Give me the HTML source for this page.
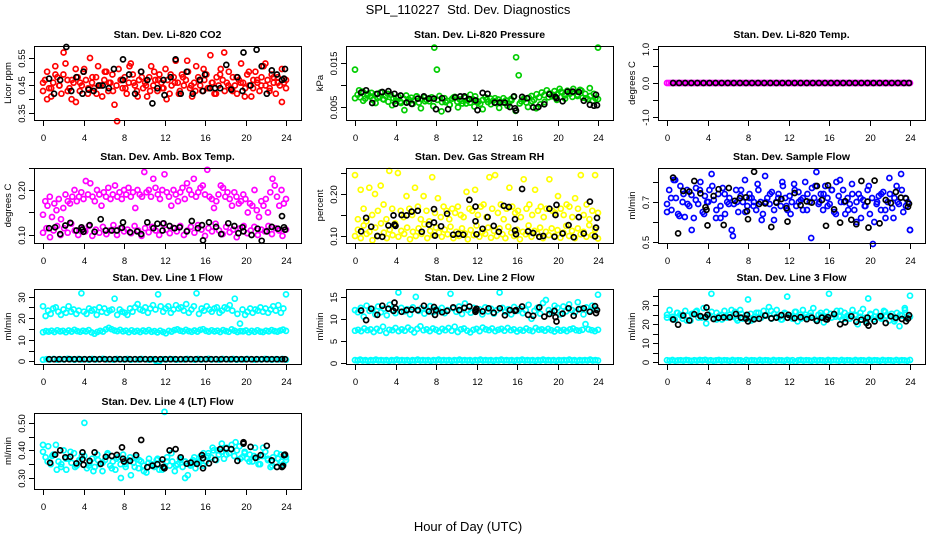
<!DOCTYPE html>
<html><head><meta charset="utf-8"><style>
html,body{margin:0;padding:0;background:#fff;}
svg{display:block;font-family:"Liberation Sans",sans-serif;}
</style></head><body>
<svg id="chart" width="936" height="540" viewBox="0 0 936 540" xmlns="http://www.w3.org/2000/svg">
<text x="468" y="14" text-anchor="middle" font-size="13" style="white-space:pre">SPL_110227&#160; Std. Dev. Diagnostics</text>
<text x="468" y="531" text-anchor="middle" font-size="13">Hour of Day (UTC)</text>
</svg>
<script>
// ---- data ----
const xTicks = [0,4,8,12,16,20,24];
const xTickLabels = ["0","4","8","12","16","20","24"];

const co2Red = [0.43,0.47,0.50,0.44,0.41,0.46,0.52,0.48,0.45,0.42,0.49,0.53,0.47,0.44,0.40,0.46,0.51,0.48,0.43,0.45,0.50,0.47,0.42,0.55,0.46,0.44,0.48,0.52,0.45,0.41,0.47,0.50,0.43,0.46,0.49,0.38,0.45,0.51,0.47,0.44,0.48,0.42,0.46,0.53,0.49,0.45,0.43,0.47,0.50,0.44,0.46,0.41,0.48,0.52,0.45,0.47,0.43,0.49,0.46,0.44,0.51,0.47,0.42,0.45,0.48,0.54,0.46,0.43,0.49,0.45,0.47,0.50,0.44,0.41,0.46,0.52,0.48,0.45,0.43,0.47,0.49,0.44,0.56,0.46,0.42,0.48,0.45,0.51,0.47,0.43,0.46,0.50,0.44,0.48,0.45,0.42,0.47,0.53,0.46,0.44,0.49,0.45,0.41,0.47,0.50,0.46,0.43,0.48,0.52,0.45,0.47,0.44,0.49,0.46,0.42,0.48,0.45,0.51,0.46,0.44];
const co2Red2 = [0.46,0.40,0.44,0.49,0.45,0.57,0.43,0.47,0.39,0.46,0.51,0.44,0.48,0.42,0.45,0.50,0.46,0.43,0.32,0.47,0.44,0.52,0.46,0.41,0.48,0.45,0.43,0.50,0.47,0.44,0.40,0.49,0.46,0.42,0.48,0.54,0.45,0.43,0.47,0.51,0.44,0.46,0.42,0.49,0.57,0.45,0.43,0.48,0.46,0.41,0.50,0.44,0.47,0.45,0.53,0.43,0.48,0.46,0.39,0.47];
const co2BlackT = [0.6,1.1,1.7,2.3,2.8,3.3,3.9,4.0,4.5,5.0,5.5,5.9,6.5,7.0,7.9,7.9,8.5,9.1,9.7,10.3,10.8,11.3,11.9,12.0,12.6,13.1,13.6,14.2,14.8,15.5,15.8,16.0,16.5,17.0,17.5,18.1,18.6,19.2,19.7,19.8,20.5,21.1,21.6,22.1,22.6,23.1,23.6,23.8,23.9];
const co2Black = [0.475,0.42,0.47,0.59,0.43,0.48,0.42,0.50,0.435,0.43,0.45,0.45,0.44,0.51,0.47,0.545,0.49,0.42,0.50,0.47,0.385,0.44,0.47,0.415,0.48,0.545,0.42,0.50,0.42,0.47,0.43,0.49,0.44,0.44,0.44,0.525,0.435,0.48,0.43,0.57,0.45,0.58,0.52,0.42,0.505,0.49,0.47,0.475,0.51];

const presGreen = [0.0135,0.0078,0.0072,0.0085,0.0069,0.0080,0.0074,0.0066,0.0079,0.0071,0.0083,0.0068,0.0075,0.0062,0.0078,0.0070,0.0064,0.0073,0.0059,0.0069,0.0076,0.0062,0.0071,0.0065,0.0074,0.0060,0.0068,0.0072,0.0066,0.0063,0.0072,0.0185,0.0135,0.0075,0.0061,0.0070,0.0064,0.0055,0.0069,0.0073,0.0062,0.0067,0.0058,0.0071,0.0065,0.0060,0.0068,0.0074,0.0063,0.0057,0.0066,0.0072,0.0061,0.0069,0.0064,0.0059,0.0067,0.0062,0.0070,0.0065,0.0058,0.0068,0.0073,0.0163,0.0122,0.0063,0.0067,0.0060,0.0071,0.0075,0.0066,0.0079,0.0072,0.0083,0.0077,0.0088,0.0081,0.0074,0.0086,0.0079,0.0091,0.0083,0.0076,0.0087,0.0080,0.0073,0.0084,0.0078,0.0089,0.0071,0.0080,0.0068,0.0075,0.0064,0.0070,0.0185];
const presGreen2 = [0.0070,0.0088,0.0064,0.0076,0.0082,0.0059,0.0073,0.0067,0.0080,0.0054,0.0071,0.0062,0.0043,0.0068,0.0057,0.0074,0.0047,0.0063,0.0070,0.0052,0.0066,0.0040,0.0061,0.0055,0.0072,0.0049,0.0064,0.0058,0.0078,0.0051,0.0062,0.0045,0.0067,0.0056,0.0070,0.0048,0.0060,0.0053,0.0065,0.0041,0.0058,0.0069,0.0050,0.0063,0.0047,0.0056,0.0061,0.0072,0.0078,0.0066,0.0085,0.0069,0.0082,0.0091,0.0075,0.0087,0.0070,0.0093,0.0080,0.0068];
const presBlackT = [0.6,1.1,1.7,2.2,2.7,3.3,3.9,4.0,4.5,5.1,5.6,6.2,6.8,7.3,7.8,8.0,8.6,9.2,9.9,10.4,10.8,11.3,11.9,12.1,12.6,13.1,13.8,14.3,14.8,15.3,15.7,15.8,15.9,16.5,17.0,17.6,18.1,18.7,19.2,19.8,19.9,20.5,21.0,21.5,22.1,22.6,23.2,23.6,23.8,23.9];
const presBlack = [0.0083,0.0088,0.0059,0.0080,0.0084,0.0086,0.0080,0.0057,0.0076,0.0060,0.0057,0.0069,0.0074,0.0069,0.0069,0.0045,0.0070,0.0045,0.0072,0.0074,0.0074,0.0068,0.0065,0.0043,0.0082,0.0080,0.0060,0.0060,0.0060,0.0050,0.0074,0.0047,0.0042,0.0073,0.0070,0.0049,0.0050,0.0056,0.0079,0.0073,0.0070,0.0063,0.0085,0.0085,0.0084,0.0064,0.0055,0.0053,0.0078,0.0054];

const tempMagenta = [0,0,0,0,0,0,0,0,0,0,0,0,0,0,0,0,0,0,0,0,0,0,0,0,0,0,0,0,0,0,0,0,0,0,0,0,0,0,0,0,0,0,0,0,0,0,0,0,0,0,0,0,0,0,0,0,0,0,0,0,0,0,0,0,0,0,0,0,0,0,0,0,0,0,0,0,0,0,0,0,0,0,0,0,0,0,0,0,0,0,0,0,0,0,0,0,0,0,0,0,0,0,0,0,0,0,0,0,0,0,0,0,0,0,0,0,0,0,0,0];
const tempBlackT = [0.6,1.2,1.8,2.4,3.0,3.6,4.2,4.8,5.4,6.0,6.6,7.2,7.8,8.4,9.0,9.6,10.2,10.8,11.4,12.0,12.6,13.2,13.8,14.4,15.0,15.6,16.2,16.8,17.4,18.0,18.6,19.2,19.8,20.4,21.0,21.6,22.2,22.8,23.4,23.9];
const tempBlack = [0,0,0,0,0,0,0,0,0,0,0,0,0,0,0,0,0,0,0,0,0,0,0,0,0,0,0,0,0,0,0,0,0,0,0,0,0,0,0,0];

const ambUpper = [0.145,0.175,0.165,0.185,0.140,0.170,0.155,0.180,0.135,0.160,0.190,0.175,0.170,0.185,0.200,0.175,0.185,0.195,0.180,0.220,0.190,0.215,0.185,0.175,0.200,0.190,0.165,0.195,0.185,0.205,0.180,0.190,0.210,0.185,0.195,0.180,0.200,0.190,0.205,0.185,0.195,0.160,0.200,0.190,0.185,0.240,0.195,0.200,0.185,0.225,0.205,0.190,0.180,0.200,0.235,0.195,0.185,0.165,0.200,0.190,0.175,0.195,0.205,0.180,0.215,0.200,0.190,0.225,0.185,0.195,0.205,0.210,0.190,0.245,0.185,0.180,0.160,0.175,0.190,0.210,0.205,0.185,0.195,0.180,0.165,0.195,0.185,0.170,0.175,0.190,0.180,0.150,0.170,0.165,0.200,0.155,0.140,0.175,0.165,0.180,0.150,0.195,0.225,0.210,0.185,0.165,0.200,0.170,0.180];
const ambLower = [0.105,0.115,0.095,0.110,0.120,0.100,0.115,0.105,0.125,0.110,0.100,0.115,0.108,0.120,0.098,0.112,0.105,0.118,0.102,0.110,0.122,0.100,0.115,0.108,0.112,0.104,0.120,0.110,0.098,0.115,0.106,0.118,0.110,0.100,0.125,0.112,0.104,0.116,0.108,0.120,0.100,0.110,0.118,0.105,0.122,0.112,0.098,0.115,0.108,0.125,0.110,0.102,0.118,0.106,0.112,0.095,0.115,0.120,0.104,0.110,0.118,0.100,0.112,0.108,0.120,0.102,0.115,0.110,0.098,0.112];
const ambBlackT = [0.6,1.2,1.7,2.2,2.7,3.3,3.8,3.9,4.0,4.6,5.1,5.7,6.2,6.8,7.3,7.8,7.9,8.6,9.3,9.7,10.3,10.9,11.3,11.8,11.9,12.5,13.0,13.5,14.2,14.7,15.3,15.7,15.8,16.4,17.1,17.6,18.3,18.9,19.3,19.7,19.8,20.6,21.2,21.6,22.1,22.6,23.2,23.6,23.8,23.9];
const ambBlack = [0.115,0.117,0.102,0.121,0.127,0.110,0.117,0.112,0.107,0.122,0.107,0.135,0.110,0.110,0.110,0.116,0.128,0.106,0.108,0.102,0.128,0.115,0.125,0.110,0.126,0.120,0.115,0.117,0.108,0.131,0.115,0.122,0.088,0.128,0.118,0.102,0.126,0.120,0.104,0.117,0.108,0.100,0.114,0.087,0.108,0.118,0.114,0.142,0.117,0.112];

const rhLower = [0.100,0.115,0.095,0.125,0.105,0.110,0.090,0.120,0.100,0.130,0.108,0.095,0.115,0.102,0.125,0.098,0.112,0.105,0.120,0.092,0.110,0.100,0.118,0.105,0.128,0.095,0.112,0.102,0.120,0.108,0.098,0.115,0.104,0.122,0.095,0.110,0.100,0.118,0.106,0.092,0.114,0.102,0.125,0.098,0.110,0.105,0.120,0.096,0.112,0.100,0.118,0.104,0.095,0.122,0.108,0.100,0.115,0.092,0.110,0.104,0.125,0.098,0.112,0.106,0.120,0.095,0.110,0.102,0.118,0.100,0.114,0.096,0.108,0.124,0.100,0.112,0.095,0.118,0.104,0.110,0.098,0.126,0.102,0.115,0.094];
const rhUpper = [0.245,0.140,0.210,0.165,0.135,0.215,0.150,0.200,0.160,0.220,0.175,0.140,0.255,0.165,0.130,0.250,0.160,0.145,0.195,0.165,0.150,0.215,0.170,0.140,0.195,0.160,0.135,0.240,0.155,0.190,0.145,0.170,0.160,0.140,0.165,0.155,0.170,0.150,0.145,0.205,0.165,0.160,0.210,0.150,0.170,0.175,0.145,0.240,0.165,0.245,0.155,0.175,0.140,0.165,0.215,0.170,0.155,0.160,0.145,0.235,0.165,0.175,0.150,0.210,0.160,0.170,0.145,0.165,0.235,0.160,0.155,0.195,0.165,0.150,0.175,0.170,0.145,0.190,0.165,0.245,0.150,0.175,0.140,0.160,0.245,0.155];
const rhBlackT = [0.6,1.1,1.6,2.2,2.7,3.3,3.8,3.9,4.0,4.6,5.1,5.6,6.2,6.6,7.3,7.8,7.8,7.9,8.5,9.1,9.7,10.2,10.7,11.3,11.9,11.9,12.0,12.6,13.1,13.7,14.2,14.7,15.2,15.8,15.8,15.9,16.5,17.1,17.6,18.2,18.6,19.2,19.7,19.8,19.9,20.5,21.1,21.6,22.1,22.6,23.2,23.7,23.8,23.9];
const rhBlack = [0.111,0.143,0.122,0.100,0.098,0.125,0.149,0.127,0.124,0.150,0.149,0.158,0.160,0.110,0.127,0.164,0.132,0.101,0.123,0.153,0.103,0.105,0.103,0.186,0.170,0.135,0.104,0.117,0.145,0.124,0.110,0.172,0.169,0.140,0.113,0.104,0.212,0.111,0.107,0.098,0.100,0.165,0.098,0.150,0.174,0.106,0.126,0.097,0.145,0.106,0.182,0.099,0.120,0.143];

const flowBlue = [0.690,0.760,0.660,0.810,0.720,0.640,0.780,0.700,0.625,0.760,0.680,0.735,0.620,0.770,0.690,0.800,0.650,0.730,0.700,0.760,0.840,0.710,0.620,0.740,0.680,0.770,0.640,0.700,0.720,0.560,0.690,0.760,0.650,0.730,0.700,0.810,0.680,0.740,0.720,0.700,0.660,0.760,0.700,0.640,0.830,0.720,0.690,0.750,0.610,0.700,0.740,0.680,0.780,0.720,0.660,0.730,0.700,0.790,0.680,0.750,0.710,0.660,0.800,0.740,0.700,0.770,0.720,0.850,0.690,0.740,0.660,0.780,0.720,0.690,0.760,0.650,0.800,0.730,0.700,0.760,0.640,0.720,0.690,0.790,0.660,0.700,0.740,0.620,0.710,0.680,0.760,0.640,0.720,0.600,0.690,0.730,0.660,0.750,0.620,0.700,0.740,0.670,0.720,0.780,0.690,0.840,0.650,0.720,0.700,0.560];
const flowBlue2 = [0.650,0.720,0.810,0.630,0.740,0.690,0.560,0.710,0.760,0.640,0.700,0.780,0.660,0.620,0.740,0.690,0.530,0.700,0.760,0.650,0.720,0.680,0.790,0.610,0.700,0.740,0.660,0.720,0.800,0.680,0.640,0.760,0.700,0.720,0.660,0.520,0.780,0.700,0.740,0.680,0.760,0.640,0.810,0.700,0.660,0.740,0.600,0.720,0.680,0.780,0.490,0.700,0.740,0.660,0.820,0.620,0.700,0.760,0.680,0.560];
const flowBlackT = [0.6,1.1,1.6,2.2,2.7,3.3,3.8,3.9,4.0,4.6,5.1,5.6,6.1,6.7,7.2,7.8,7.9,8.0,8.6,9.1,9.7,10.3,10.8,11.3,11.8,11.9,12.6,13.2,13.8,14.3,14.8,15.3,15.7,15.9,16.5,17.1,17.6,18.2,18.7,19.2,19.8,19.9,20.5,21.0,21.6,22.1,22.6,23.1,23.6,23.8,23.9];
const flowBlack = [0.822,0.543,0.755,0.752,0.805,0.743,0.674,0.661,0.583,0.730,0.764,0.585,0.770,0.706,0.719,0.723,0.654,0.614,0.851,0.690,0.693,0.575,0.697,0.715,0.669,0.602,0.745,0.684,0.703,0.697,0.780,0.710,0.581,0.783,0.663,0.597,0.704,0.611,0.589,0.805,0.702,0.572,0.807,0.593,0.710,0.695,0.750,0.722,0.718,0.676,0.691];

const l1High = [25.5,21.0,23.5,22.0,24.5,25.0,23.0,21.5,24.0,22.5,25.5,23.0,24.0,22.0,23.5,31.5,23.0,22.0,24.5,23.5,24.0,21.5,25.0,23.0,24.5,22.5,23.5,24.0,29.0,21.5,24.0,23.0,22.5,21.5,24.5,23.0,25.0,26.5,24.0,23.5,25.0,22.5,24.5,26.0,24.0,31.0,25.5,23.0,24.5,25.5,22.5,24.0,26.0,24.5,25.0,23.5,26.5,22.5,24.0,25.5,31.5,22.0,24.5,23.5,25.5,24.0,23.0,24.5,25.0,22.5,23.5,25.0,24.5,26.0,23.5,29.0,22.0,17.5,24.0,21.5,23.0,24.5,22.5,24.0,23.5,25.0,23.0,24.5,22.5,24.0,25.5,23.5,26.0,22.5,24.5,31.0];
const l1Mid = [13.5,14.0,13.8,14.2,13.6,14.4,13.9,14.1,13.5,14.3,13.8,14.6,14.0,13.7,14.2,13.9,14.5,13.4,12.8,13.6,14.1,13.8,14.8,15.5,14.9,14.3,14.0,14.6,13.9,14.2,13.5,14.4,13.8,14.1,13.6,14.3,13.9,14.5,13.7,14.0,13.4,14.2,13.6,13.0,14.1,13.8,14.5,14.8,14.2,13.9,14.6,14.0,13.7,14.3,13.8,14.6,14.9,14.1,13.8,14.4,13.9,14.2,13.6,14.5,14.0,13.7,14.8,14.2,13.6,14.0,13.9,14.3,13.5,14.1,13.7,14.4,13.8,13.6,14.2,13.9,14.5,14.0,13.8,14.3,14.7,14.1];
const l1Low = [0.8,1.0,0.9,1.1,0.8,1.0,0.9,1.2,1.0,0.8,1.1,0.9,1.0,0.8,1.1,0.9,1.0,1.2,0.9,1.0,0.8,1.1,1.0,0.9,1.1,0.8,1.0,0.9,1.1,1.0,0.8,1.0,0.3,0.0,1.0,0.9,1.1,1.0,0.8,1.0,0.9,1.1,1.0,0.8,1.1,0.9,1.0,1.2,0.9,1.0,0.8,1.1,1.0,0.9,1.1,0.8,1.0,0.9,1.1,1.0,0.8,1.0,0.9,1.1,1.0,0.8,1.0,0.9,1.1,0.8];
const l1BlackT = [0.6,1.1,1.6,2.1,2.6,3.1,3.6,4.1,4.6,5.1,5.6,6.1,6.6,7.1,7.6,8.1,8.6,9.1,9.6,10.1,10.6,11.1,11.6,12.1,12.6,13.1,13.6,14.1,14.6,15.1,15.6,16.1,16.6,17.1,17.6,18.1,18.6,19.1,19.6,20.1,20.6,21.1,21.6,22.1,22.6,23.1,23.6,23.9];
const l1Black = [1,1,1,1,1,1,1,1,1,1,1,1,1,1,1,1,1,1,1,1,1,1,1,1,1,1,1,1,1,1,1,1,1,1,1,1,1,1,1,1,1,1,1,1,1,1,1,1];

const l2High = [12.0,11.5,12.5,10.5,13.0,11.8,12.2,11.0,12.8,11.5,12.3,10.8,13.2,12.0,11.3,16.0,12.5,11.7,12.2,11.0,12.6,15.0,11.8,12.4,11.2,12.0,12.9,11.5,12.2,11.8,12.5,11.3,12.0,15.7,12.4,11.6,12.8,11.1,13.5,12.0,11.4,12.5,11.9,12.2,11.0,12.6,11.7,12.3,11.2,12.0,16.0,12.5,11.6,12.2,11.0,12.7,11.8,12.3,11.3,12.0,13.2,10.0,11.8,12.5,11.2,13.6,14.3,12.0,11.5,13.0,12.5,11.0,12.8,11.7,13.3,12.0,11.5,13.8,12.3,11.0,12.6,11.8,13.0,12.2,15.5];
const l2Mid = [7.3,7.5,7.2,7.8,7.4,7.6,7.0,7.7,7.3,8.2,6.8,7.5,7.4,7.9,7.2,7.6,7.3,8.0,7.5,6.9,7.7,8.3,7.4,7.6,7.2,7.8,7.5,7.1,7.7,7.4,7.9,7.3,8.2,7.0,7.6,7.8,7.3,6.9,7.5,7.7,7.2,8.0,7.6,7.4,7.8,7.2,7.5,7.7,7.3,7.9,7.4,7.6,7.1,7.5,7.3,7.8,7.4,7.2,7.9,7.5,7.6,7.3,7.7,7.4,7.1,7.6,7.3,7.5,7.2,7.6,7.8,7.4,7.3,7.5,8.8,7.6,7.4,7.2,7.5];
const l2Low = [0.6,0.5,0.7,0.5,0.6,0.4,0.6,0.5,0.7,0.5,0.6,0.5,0.6,0.4,0.6,0.5,0.7,0.5,0.6,0.5,0.6,0.4,0.6,0.5,0.7,0.5,0.6,0.5,0.6,0.4,0.6,0.5,0.7,0.5,0.6,0.5,0.6,0.4,0.6,0.5,0.7,0.5,0.6,0.5,0.6,0.4,0.6,0.5,0.7,0.5,0.6,0.5,0.6,0.4,0.6,0.5,0.7,0.5,0.6,0.5,0.6,0.4,0.6,0.5,0.7,0.5,0.6,0.5,0.6,0.4,0.6,0.5,0.7,0.5,0.6,0.5,0.6,0.4,0.6,0.5,0.6,0.5,0.7,0.5,0.6,0.4,0.6,0.5,0.6,0.5,0.7,0.5,0.6,0.5];
const l2BlackT = [0.6,1.1,1.6,2.2,2.7,3.3,3.8,3.9,4.0,4.6,5.1,5.6,6.2,6.8,7.3,7.8,7.9,8.0,8.6,9.1,9.7,10.3,10.8,11.3,11.9,11.9,12.0,12.6,13.2,13.7,14.3,14.8,15.3,15.8,15.9,16.5,17.1,17.6,18.2,18.7,19.2,19.7,19.8,19.9,20.5,21.1,21.6,22.1,22.6,23.2,23.7,23.8,23.9];
const l2Black = [11.9,9.7,12.3,10.9,13.0,12.3,11.8,13.7,12.4,11.6,12.0,12.1,12.0,13.0,11.7,12.7,10.9,12.0,11.5,11.8,12.6,12.0,12.5,12.8,12.0,11.6,12.3,11.7,12.4,11.4,12.4,10.8,12.0,11.8,12.0,12.8,10.9,10.7,12.6,10.5,11.1,11.8,10.4,9.4,11.2,12.4,10.7,12.2,12.4,11.6,12.9,11.3,12.0];

const l3High = [23.5,27.5,24.0,22.5,26.0,25.0,23.0,27.0,24.5,22.0,25.5,26.5,23.5,24.0,28.5,20.5,25.0,36.0,23.0,26.0,24.5,22.5,27.0,23.5,25.0,24.0,26.5,22.0,27.5,23.0,24.5,33.0,25.5,22.5,24.0,26.0,23.5,27.0,24.5,29.0,23.0,25.5,27.5,24.0,22.5,26.0,34.5,24.5,23.0,26.5,21.5,25.0,27.5,23.5,24.0,26.0,28.5,22.5,25.0,24.5,21.0,26.5,36.0,23.5,25.0,27.0,24.0,22.5,26.0,24.5,23.0,27.5,25.0,20.0,24.0,28.0,23.5,33.5,25.0,22.5,26.5,24.0,23.0,27.0,24.5,22.0,25.5,21.5,26.0,19.0,24.5,28.5,23.0,35.0];
const l3High2 = [25.0,23.0,26.0,24.5,22.0,25.5,27.0,23.5,24.0,26.5,22.5,25.0,24.0,27.5,23.0,25.5,24.5,22.0,26.0,23.5,25.0,27.0,24.0,22.5,25.5,24.0,26.5,23.0,25.0,24.5,22.5,26.0,23.5,25.5,24.0,27.0,23.0,25.0,24.5,26.0,22.0,25.5,24.0,23.5,26.5,24.5,22.5,25.0,27.5,24.0];
const l3Low = [1.2,1.0,1.3,0.9,1.1,1.2,1.0,1.3,1.1,0.9,1.2,1.0,1.3,1.1,1.4,1.0,1.2,0.9,1.1,1.3,1.0,1.2,1.1,0.9,1.3,1.0,1.2,1.1,0.6,1.3,1.0,1.2,1.1,0.9,1.3,1.0,1.2,1.1,0.9,1.3,1.0,1.2,1.1,0.9,1.3,1.0,1.2,0.4,1.1,1.3,1.0,1.2,1.1,0.9,1.3,1.0,1.2,1.1,0.9,1.3,1.0,1.2,1.1,0.9,1.3,1.0,1.2,1.1,0.9,1.3,1.0,1.2,1.1,0.9,1.3,1.0,1.2,1.1,0.9,1.3,1.0,1.2,1.1,0.9,1.3,1.0,1.2,1.1,0.9,1.3];
const l3BlackT = [0.6,1.1,1.6,2.2,2.7,3.3,3.8,3.9,4.0,4.6,5.1,5.6,6.2,6.8,7.3,7.8,7.9,8.0,8.6,9.1,9.7,10.3,10.8,11.3,11.9,12.0,12.6,13.2,13.8,14.3,14.8,15.3,15.7,15.8,15.9,16.5,17.1,17.6,18.2,18.7,19.2,19.7,19.8,19.9,20.5,21.1,21.6,22.1,22.6,23.2,23.6,23.8,23.9];
const l3Black = [22.5,19.8,24.6,22.0,25.3,24.3,23.7,28.8,25.0,22.8,23.4,23.6,23.6,25.4,23.5,23.0,25.0,21.5,22.6,22.9,24.6,23.1,23.5,24.8,23.4,25.0,23.2,23.8,22.7,23.5,21.8,23.5,22.7,22.5,23.7,25.4,20.0,21.0,24.2,21.3,22.4,20.7,23.5,19.3,21.5,24.3,20.7,24.2,23.4,22.8,21.6,23.0,24.8];

const l4Cyan = [0.395,0.375,0.415,0.350,0.385,0.420,0.360,0.340,0.400,0.330,0.370,0.355,0.390,0.345,0.365,0.380,0.500,0.335,0.355,0.370,0.340,0.385,0.350,0.325,0.365,0.390,0.345,0.360,0.330,0.375,0.350,0.385,0.340,0.365,0.310,0.355,0.375,0.335,0.360,0.345,0.320,0.370,0.350,0.340,0.365,0.330,0.355,0.540,0.375,0.345,0.360,0.325,0.350,0.370,0.340,0.360,0.310,0.345,0.365,0.335,0.355,0.380,0.345,0.360,0.390,0.375,0.400,0.365,0.385,0.395,0.370,0.410,0.390,0.420,0.380,0.400,0.415,0.375,0.390,0.370,0.385,0.360,0.410,0.375,0.350,0.380,0.395,0.365,0.340,0.375,0.355,0.370,0.385,0.350,0.365];
const l4Cyan2 = [0.420,0.360,0.380,0.330,0.350,0.370,0.395,0.340,0.360,0.380,0.345,0.325,0.365,0.355,0.385,0.335,0.370,0.300,0.350,0.375,0.340,0.365,0.325,0.355,0.345,0.370,0.330,0.360,0.390,0.345,0.365,0.300,0.350,0.375,0.360,0.390,0.380,0.410,0.400,0.425,0.385,0.405,0.430,0.370,0.395,0.360,0.380,0.350,0.410,0.370,0.345,0.390,0.360,0.375];
const l4BlackT = [0.7,1.2,1.7,2.2,2.7,3.3,3.9,3.9,4.0,4.6,5.1,5.7,6.2,6.8,7.3,7.8,7.9,8.0,8.6,9.2,9.7,10.3,10.8,11.3,11.8,11.9,12.0,12.5,13.1,13.6,14.2,14.6,15.2,15.7,15.8,15.8,16.4,17.0,17.5,18.1,18.6,19.2,19.8,19.8,20.5,21.0,21.5,22.1,22.6,23.1,23.6,23.7,23.8,23.9];
const l4Black = [0.355,0.385,0.400,0.375,0.377,0.353,0.393,0.368,0.348,0.362,0.393,0.351,0.377,0.380,0.384,0.411,0.370,0.360,0.362,0.383,0.438,0.339,0.345,0.350,0.367,0.340,0.335,0.400,0.405,0.375,0.352,0.356,0.351,0.383,0.372,0.335,0.353,0.366,0.405,0.407,0.405,0.362,0.430,0.425,0.413,0.373,0.383,0.417,0.364,0.340,0.340,0.344,0.383,0.385];

// ---- layout config ----
const NS = "http://www.w3.org/2000/svg";
const svg = document.getElementById('chart');
function mk(tag, attrs, parent) {
  const e = document.createElementNS(NS, tag);
  for (const k in attrs) e.setAttribute(k, attrs[k]);
  (parent || svg).appendChild(e);
  return e;
}
const rowTop = [46, 168, 289, 413];
const rowH = [74, 75, 75, 76];
const panels = [
  {key:'co2', title:'Stan. Dev. Li-820 CO2', ylab:'Licor ppm', col:0,row:0, ymin:0.3245,ymax:0.5936, ticks:[0.35,0.40,0.45,0.50,0.55], labels:{'0.35':'0.35','0.45':'0.45','0.55':'0.55'},
   series:[[co2Red,null,'#ff0000'],[co2Red2,null,'#ff0000'],[co2Black,co2BlackT,'#000']]},
  {key:'pressure', title:'Stan. Dev. Li-820 Pressure', ylab:'kPa', col:1,row:0, ymin:0.00204,ymax:0.01886, ticks:[0.005,0.010,0.015], labels:{'0.005':'0.005','0.015':'0.015'},
   series:[[presGreen,null,'#00cd00'],[presGreen2,null,'#00cd00'],[presBlack,presBlackT,'#000']]},
  {key:'temp', title:'Stan. Dev. Li-820 Temp.', ylab:'degrees C', col:2,row:0, ymin:-1.08,ymax:1.08, ticks:[-1,-0.5,0,0.5,1], labels:{'-1':'-1.0','0':'0.0','1':'1.0'},
   series:[[tempMagenta,null,'#ff00ff'],[tempBlack,tempBlackT,'#000']]},
  {key:'ambbox', title:'Stan. Dev. Amb. Box Temp.', ylab:'degrees C', col:0,row:1, ymin:0.0822,ymax:0.2489, ticks:[0.10,0.15,0.20,0.25], labels:{'0.1':'0.10','0.2':'0.20'},
   series:[[ambUpper,null,'#ff00ff'],[ambLower,null,'#ff00ff'],[ambBlack,ambBlackT,'#000']]},
  {key:'rh', title:'Stan. Dev. Gas Stream RH', ylab:'percent', col:1,row:1, ymin:0.0833,ymax:0.2619, ticks:[0.10,0.15,0.20,0.25], labels:{'0.1':'0.10','0.2':'0.20'},
   series:[[rhLower,null,'#ffff00'],[rhUpper,null,'#ffff00'],[rhBlack,rhBlackT,'#000']]},
  {key:'sampleflow', title:'Stan. Dev. Sample Flow', ylab:'ml/min', col:2,row:1, ymin:0.495,ymax:0.87, ticks:[0.5,0.6,0.7,0.8], labels:{'0.5':'0.5','0.7':'0.7'},
   series:[[flowBlue,null,'#0000ff'],[flowBlue2,null,'#0000ff'],[flowBlack,flowBlackT,'#000']]},
  {key:'line1', title:'Stan. Dev. Line 1 Flow', ylab:'ml/min', col:0,row:2, ymin:-1.2,ymax:33.5, ticks:[0,5,10,15,20,25,30], labels:{'0':'0','10':'10','20':'20','30':'30'},
   series:[[l1High,null,'#00ffff'],[l1Mid,null,'#00ffff'],[l1Low,null,'#00ffff'],[l1Black,l1BlackT,'#000']]},
  {key:'line2', title:'Stan. Dev. Line 2 Flow', ylab:'ml/min', col:1,row:2, ymin:-0.3,ymax:16.8, ticks:[0,5,10,15], labels:{'0':'0','5':'5','10':'10','15':'15'},
   series:[[l2High,null,'#00ffff'],[l2Mid,null,'#00ffff'],[l2Low,null,'#00ffff'],[l2Black,l2BlackT,'#000']]},
  {key:'line3', title:'Stan. Dev. Line 3 Flow', ylab:'ml/min', col:2,row:2, ymin:-0.8,ymax:38.5, ticks:[0,5,10,15,20,25,30,35], labels:{'0':'0','10':'10','20':'20','30':'30'},
   series:[[l3High,null,'#00ffff'],[l3High2,null,'#00ffff'],[l3Low,null,'#00ffff'],[l3Black,l3BlackT,'#000']]},
  {key:'line4', title:'Stan. Dev. Line 4 (LT) Flow', ylab:'ml/min', col:0,row:3, ymin:0.26,ymax:0.536, ticks:[0.30,0.35,0.40,0.45,0.50], labels:{'0.3':'0.30','0.4':'0.40','0.5':'0.50'},
   series:[[l4Cyan,null,'#00ffff'],[l4Cyan2,null,'#00ffff'],[l4Black,l4BlackT,'#000']]}
];

panels.forEach(p => {
  const off = p.col * 312;
  const L = 34 + off, R = 301 + off;
  const T = rowTop[p.row], H = rowH[p.row], B = T + H;
  const xs = t => 43 + off + t * (243 / 24);
  const ys = v => T + H * (p.ymax - v) / (p.ymax - p.ymin);
  const g = mk('g', {});
  
  
  const ttl = mk('text', {x:(L+R)/2, y:T-8, 'text-anchor':'middle', 'font-size':'10.5', 'font-weight':'bold'}, g);
  ttl.textContent = p.title;
  
  
  const pts = mk('g', {fill:'none', 'stroke-width':'1.7'}, g);
  
  
  p.series.forEach(s => {
    const vals = s[0], times = s[1], col = s[2];
    const n = vals.length;
    vals.forEach((v, i) => {
      const t = times ? times[i] : (n > 1 ? 24 * i / (n - 1) : 0);
      const c = mk('circle', {cx:xs(t).toFixed(1), cy:ys(v).toFixed(1), r:'2.5', stroke:col}, pts);
      
      
    });
  });
  const box = mk('rect', {x:L+0.5, y:T+0.5, width:R-L, height:H, fill:'none', stroke:'#000', 'stroke-width':'1'}, g);
  
  
  const xa = mk('g', {}, g);
  
  
  xTicks.forEach((t, i) => {
    const x = Math.round(xs(t)) + 0.5;
    mk('line', {x1:x, x2:x, y1:B+0.5, y2:B+6, stroke:'#000'}, xa);
    const tx = mk('text', {x:x, y:B+21, 'text-anchor':'middle', 'font-size':'9.5'}, xa);
    tx.textContent = xTickLabels[i];
    
    
  });
  const ya = mk('g', {}, g);
  
  
  p.ticks.forEach(v => {
    const y = Math.round(ys(v)) + 0.5;
    mk('line', {x1:L+0.5, x2:L-5, y1:y, y2:y, stroke:'#000'}, ya);
    const lab = p.labels[String(v)];
    if (lab !== undefined) {
      const tx = mk('text', {x:0, y:0, 'text-anchor':'middle', 'font-size':'9.5', transform:`translate(${L-9},${y}) rotate(-90)`}, ya);
      tx.textContent = lab;
      
      
    }
  });
  const yl = mk('text', {x:0, y:0, 'text-anchor':'middle', 'font-size':'9.5', transform:`translate(${L-23},${T+H/2}) rotate(-90)`}, g);
  yl.textContent = p.ylab;
  
  
});
</script>
</body></html>
